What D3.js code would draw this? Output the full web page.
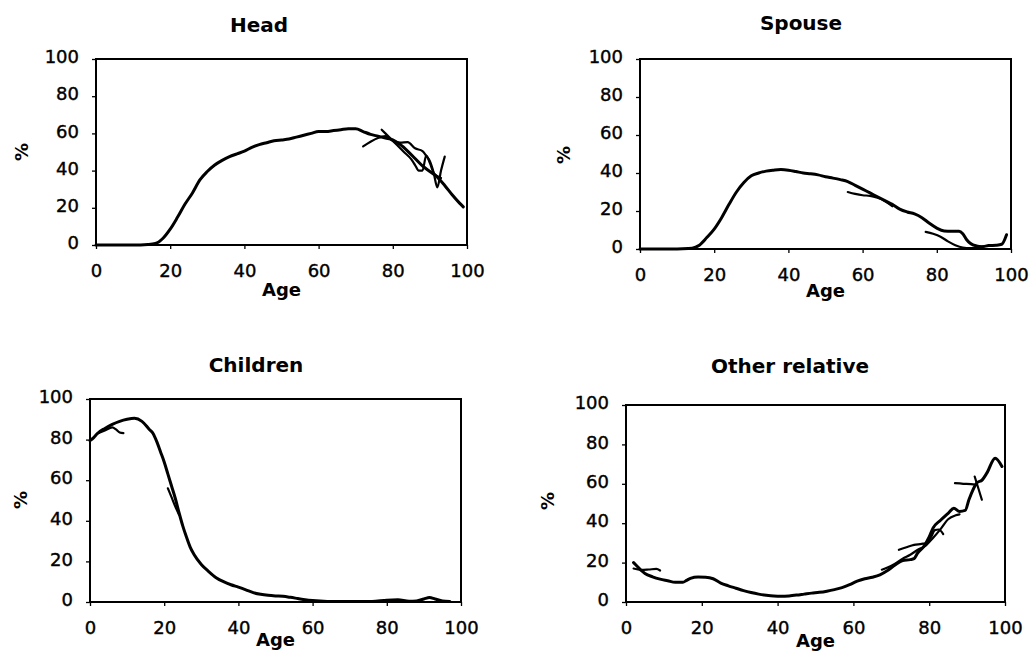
<!DOCTYPE html>
<html>
<head>
<meta charset="utf-8">
<script src="https://cdn.jsdelivr.net/npm/d3@7/dist/d3.min.js"></script>
<style>
  html, body { margin: 0; padding: 0; background: #fff; }
  svg { display: block; }
</style>
</head>
<body>
<svg id="chart" width="1030" height="653"></svg>
<script>
// ---------------- DATA ----------------
const xTicks = [0, 20, 40, 60, 80, 100];
const yTicks = [0, 20, 40, 60, 80, 100];
const titles = ["Head", "Spouse", "Children", "Other relative"];
const xLabel = "Age";
const yLabel = "%";

// Head (% of persons by age)
const headMain = [[0,0],[5,0],[10,0],[14,0.3],[16,0.8],[18,3.5],[20,8.5],[22,15],[24,22],[26,28],[28,35],[30,39.5],[32,43],[34,45.5],[36,47.5],[38,49],[40,50.5],[42,52.5],[44,54],[46,55],[48,56],[50,56.5],[52,57],[54,58],[56,59],[58,60],[60,61],[62,61],[64,61.5],[66,62],[68,62.5],[70,62.5],[72,61],[74,59.5],[76,58.5],[78,57.5],[80,56.5],[82,54],[84,50.5],[86,46.5],[88,42.5],[90,39.5],[92,36.5],[94,32],[96,27],[98,22.5],[99,20.5]];
const headB = [[72,53],[74,55.5],[76,57.5],[78,58.5],[80,56],[82,55],[84,55.3],[86,52],[88,50.5],[89,48],[90,45],[91,39],[92,31],[93,40],[94,47.5]];
const headC = [[77,62],[79,58],[81,54],[83,50],[85,46],[86,43],[87,40],[88,40],[89,48],[90,44],[91,38.8],[92,37],[93,36]];

// Spouse
const spouseMain = [[0,0],[5,0],[10,0],[13,0.2],[15,1],[16,2],[18,6],[20,10.5],[22,16.5],[24,23.5],[26,30],[28,35],[30,38.5],[32,40],[34,41],[36,41.5],[38,41.8],[40,41.5],[42,40.8],[44,40],[46,39.6],[48,39],[50,38],[52,37.3],[54,36.5],[56,35.5],[58,33.5],[60,31.5],[62,29.5],[64,27.5],[66,25.5],[68,23.5],[70,21],[72,19.5],[74,18.5],[76,16.5],[78,13.5],[80,11],[82,9.5],[84,9.3],[86,9.3],[87,8],[88,5],[89,3],[90,2],[92,1.2],[94,1.8],[96,2],[97.5,2.5],[98.8,7.5]];
const spouseB = [[56,30],[58,29],[60,28.3],[62,28],[64,27],[66,25.3],[68,22.5]];
const spouseC = [[77,9],[79,8],[81,6.5],[83,4],[85,2],[87,0.8],[89,0.5],[91,1],[93,1.5]];

// Children
const childMain = [[0,79.5],[1,81],[2,83],[4,85.5],[6,87.5],[8,89],[10,90],[12,90.5],[14,89],[16,85],[17,83],[18,79],[19,74],[20,69],[21,63],[22,57],[23,51],[24,44],[25,37.5],[26,32],[27,27],[28,23.5],[30,18.5],[32,15],[34,12],[36,10],[38,8.5],[40,7.3],[42,6],[44,4.6],[46,3.8],[48,3.3],[50,3],[52,2.8],[54,2.3],[56,1.7],[58,1.1],[60,0.7],[64,0.3],[70,0.2],[76,0.3],[80,0.9],[83,1.1],[86,0.4],[88,0.5],[90,1.5],[91.5,2.2],[93,1.5],[95,0.5],[97,0.2]];
const childB = [[2,83],[4,84.5],[6,86],[7,85],[8,83.5],[9,83.2]];
const childC = [[21,56],[22,51.5],[23,47],[24,43]];

// Other relative
const otherMain = [[2,20],[3,18],[4,16],[5,14.5],[7,12.8],[9,11.6],[11,10.8],[13,10],[15,10],[16,11],[17,12],[19,12.7],[21,12.6],[23,11.8],[25,9.6],[27,8.2],[29,7],[31,5.8],[33,4.8],[35,4],[37,3.4],[39,3],[41,2.9],[43,3.1],[45,3.5],[47,4],[49,4.5],[51,4.9],[53,5.5],[55,6.3],[57,7.3],[59,8.8],[61,10.6],[63,11.8],[65,12.6],[67,13.8],[69,16],[71,18.8],[73,21],[75,21.5],[76,22],[77,25],[78.5,28],[80,33],[81,37.5],[83,41.5],[85,45],[86.5,47.6],[88,46],[89.5,46.5],[90.5,52],[92.5,60.3],[94,62],[95.2,65.4],[97.4,73],[99.2,68.8]];
const otherB = [[2,17],[4,16.3],[6,16.5],[8,16.8],[9,16]];
const otherC = [[67.5,16.4],[69,17.5],[71,19.5],[73,22],[75,24],[77,26.5],[79,28.5],[81,32.5],[83,37],[85,42],[87,44],[88,44.5]];
const otherD = [[72,26.5],[74,27.8],[76,29],[78,29.5],[79.3,30],[80.5,33],[81.5,36.5],[82.5,36.8],[83.7,34.5]];
const otherE = [[86.8,60.3],[89,60],[91,59.8],[92.5,59.5]];
const otherF = [[92,63.7],[93,57.5],[93.9,51.9]];

const panelSeries = [
  [headMain, headB, headC],
  [spouseMain, spouseB, spouseC],
  [childMain, childB, childC],
  [otherMain, otherB, otherC, otherD, otherE, otherF]
];

// ---------------- LAYOUT ----------------
const layout = [
  {l:96,  r:467,  t:59,  b:245, titleX:259, titleY:32,  pctX:21,  pctY:152, ageY:296},
  {l:640, r:1011, t:59,  b:249, titleX:801, titleY:30,  pctX:563, pctY:155, ageY:297},
  {l:90,  r:461,  t:399, b:602, titleX:256, titleY:372, pctX:20,  pctY:500, ageY:646},
  {l:626, r:1005, t:405, b:602, titleX:790, titleY:373, pctX:547, pctY:501, ageY:647}
];

const svg = d3.select("#chart");
svg.append("rect").attr("width", 1030).attr("height", 653).attr("fill", "#fff");

const FONT = "'DejaVu Sans', Arial, sans-serif";

layout.forEach((L, i) => {
  const g = svg.append("g");
  const x = d3.scaleLinear().domain([0, 100]).range([L.l, L.r]);
  const y = d3.scaleLinear().domain([0, 100]).range([L.b, L.t]);

  // Y axis
  const ya = g.append("g").attr("transform", `translate(${L.l},0)`)
    .call(d3.axisLeft(y).tickValues(yTicks).tickSize(4).tickPadding(13).tickFormat(d3.format("d")));
  ya.select(".domain").remove();
  ya.selectAll(".tick line").attr("stroke", "#000").attr("stroke-width", 1.3);
  ya.selectAll(".tick text").attr("font-family", FONT).attr("font-size", 18)
    .attr("fill", "#000").attr("stroke", "#000").attr("stroke-width", 0.4).attr("dy", "0.2em");

  // X axis
  const xa = g.append("g").attr("transform", `translate(0,${L.b})`)
    .call(d3.axisBottom(x).tickValues(xTicks).tickSize(4).tickPadding(15).tickFormat(d3.format("d")));
  xa.select(".domain").remove();
  xa.selectAll(".tick line").attr("stroke", "#000").attr("stroke-width", 1.3);
  xa.selectAll(".tick text").attr("font-family", FONT).attr("font-size", 18)
    .attr("fill", "#000").attr("stroke", "#000").attr("stroke-width", 0.4);

  // Frame
  g.append("rect").attr("x", L.l).attr("y", L.t)
    .attr("width", L.r - L.l).attr("height", L.b - L.t)
    .attr("fill", "none").attr("stroke", "#000").attr("stroke-width", 2);

  // Lines
  const line = d3.line().x(d => x(d[0])).y(d => y(d[1])).curve(d3.curveMonotoneX);
  panelSeries[i].forEach((s, k) => {
    g.append("path").datum(s).attr("d", line)
      .attr("fill", "none").attr("stroke", "#000")
      .attr("stroke-width", k === 0 ? 3 : 2.2)
      .attr("stroke-linejoin", "round").attr("stroke-linecap", "round");
  });

  // Title
  g.append("text").attr("x", L.titleX).attr("y", L.titleY)
    .attr("text-anchor", "middle").attr("font-family", FONT)
    .attr("font-weight", "bold").attr("font-size", 20).text(titles[i]);

  // Age label
  g.append("text").attr("x", (L.l + L.r) / 2).attr("y", L.ageY)
    .attr("text-anchor", "middle").attr("font-family", FONT)
    .attr("font-weight", "bold").attr("font-size", 18).text(xLabel);

  // % label
  g.append("text").attr("transform", `translate(${L.pctX},${L.pctY}) rotate(-90)`)
    .attr("text-anchor", "middle").attr("dominant-baseline", "central")
    .attr("font-family", FONT).attr("font-weight", "bold").attr("font-size", 18).text(yLabel);
});
</script>
</body>
</html>
